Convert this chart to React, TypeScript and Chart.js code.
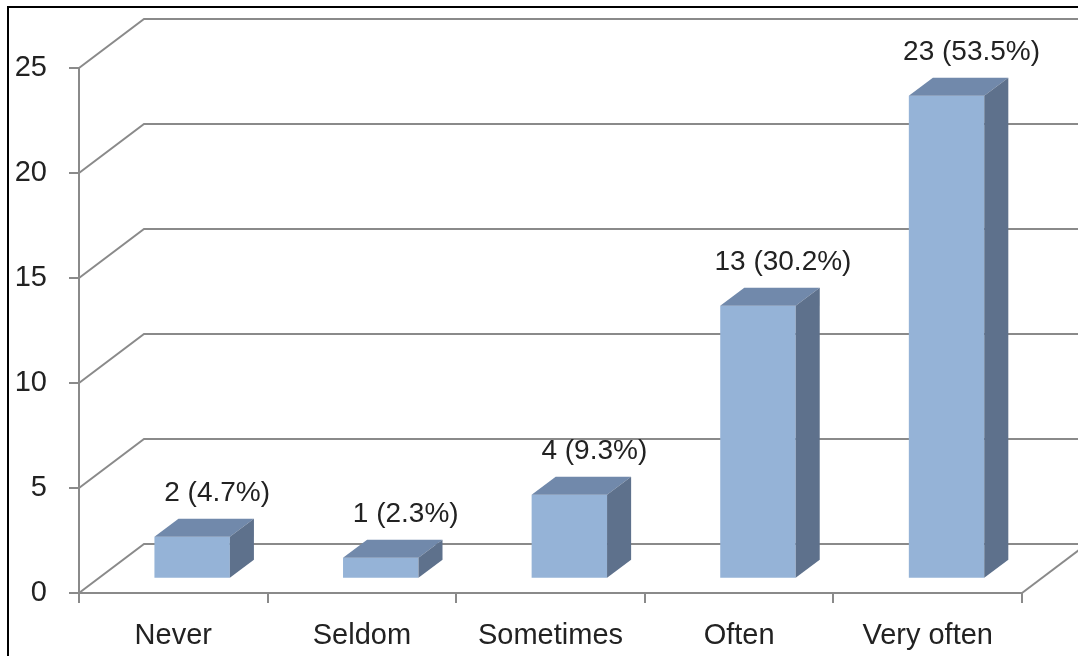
import React, { useEffect, useRef } from "react";
import { Chart, registerables } from "chart.js";

Chart.register(...registerables);

const categories = ["Never", "Seldom", "Sometimes", "Often", "Very often"];
const counts = [2, 1, 4, 13, 23];
const percents = [4.7, 2.3, 9.3, 30.2, 53.5];
const yMax = 25;
const yStep = 5;

const FONT = "'Liberation Sans', Arial, sans-serif";
const TEXT = "#222222";
const GRID = "#8a8a8a";
const FRONT = "#95b3d7";
const TOP = "#7189ab";
const SIDE = "#5e718c";

// 3D geometry of the floor / back wall
const WALL_DX = 65;
const WALL_DY = 49;
const BAR_FRONT = 0.29; // depth fraction where the bar front sits
const BAR_DEPTH = 0.37; // depth fraction occupied by a bar

const threeD = {
  id: "threeD",
  beforeDraw(chart: any) {
    const { ctx, chartArea, scales } = chart;
    const y = scales.y;
    ctx.save();
    // outer border
    ctx.fillStyle = "#000";
    ctx.fillRect(7, 6, chart.width - 7, 2);
    ctx.fillRect(7, 6, 2, chart.height - 6);
    // back wall gridlines
    ctx.strokeStyle = GRID;
    ctx.lineWidth = 2;
    for (let v = 0; v <= yMax; v += yStep) {
      const py = y.getPixelForValue(v);
      ctx.beginPath();
      ctx.moveTo(chartArea.left, py);
      ctx.lineTo(chartArea.left + WALL_DX, py - WALL_DY);
      ctx.lineTo(chart.width + 5, py - WALL_DY);
      ctx.stroke();
    }
    // floor right edge
    const p0 = y.getPixelForValue(0);
    ctx.beginPath();
    ctx.moveTo(chartArea.right, p0);
    ctx.lineTo(chartArea.right + WALL_DX, p0 - WALL_DY);
    ctx.stroke();
    ctx.restore();
  },
  beforeDatasetsDraw(chart: any) {
    const ctx = chart.ctx;
    ctx.save();
    ctx.translate(WALL_DX * BAR_FRONT, -WALL_DY * BAR_FRONT);
  },
  afterDatasetsDraw(chart: any) {
    const ctx = chart.ctx;
    ctx.restore();
    const dx = WALL_DX * BAR_FRONT;
    const dy = -WALL_DY * BAR_FRONT;
    const ddx = WALL_DX * BAR_DEPTH;
    const ddy = WALL_DY * BAR_DEPTH;
    const meta = chart.getDatasetMeta(0);
    ctx.save();
    meta.data.forEach((bar: any, i: number) => {
      const { x, y, base, width } = bar.getProps(["x", "y", "base", "width"], true);
      const x0 = x - width / 2 + dx;
      const x1 = x + width / 2 + dx;
      const yT = y + dy;
      const yB = base + dy;
      // top face
      ctx.fillStyle = TOP;
      ctx.beginPath();
      ctx.moveTo(x0, yT);
      ctx.lineTo(x0 + ddx, yT - ddy);
      ctx.lineTo(x1 + ddx, yT - ddy);
      ctx.lineTo(x1, yT);
      ctx.closePath();
      ctx.fill();
      // side face
      ctx.fillStyle = SIDE;
      ctx.beginPath();
      ctx.moveTo(x1, yT);
      ctx.lineTo(x1 + ddx, yT - ddy);
      ctx.lineTo(x1 + ddx, yB - ddy);
      ctx.lineTo(x1, yB);
      ctx.closePath();
      ctx.fill();
      // label
      ctx.fillStyle = TEXT;
      ctx.font = `28px ${FONT}`;
      ctx.textAlign = "center";
      ctx.textBaseline = "middle";
      ctx.fillText(`${counts[i]} (${percents[i]}%)`, x + dx + 25, yT - ddy - 25);
    });
    ctx.restore();
  },
};

export default function App() {
  const ref = useRef<HTMLCanvasElement>(null);
  useEffect(() => {
    if (!ref.current) return;
    const chart = new Chart(ref.current, {
      type: "bar",
      data: {
        labels: categories,
        datasets: [
          {
            data: counts,
            backgroundColor: FRONT,
            borderWidth: 0,
            barPercentage: 0.4,
            categoryPercentage: 1,
          },
        ],
      },
      options: {
        responsive: false,
        animation: false,
        devicePixelRatio: 1,
        layout: { padding: { left: 0, top: 68, right: 56, bottom: 0 } },
        plugins: { legend: { display: false }, tooltip: { enabled: false } },
        scales: {
          x: {
            grid: {
              offset: true,
              drawOnChartArea: false,
              drawTicks: true,
              tickLength: 10,
              color: GRID,
              lineWidth: 2,
            },
            border: { display: true, color: GRID, width: 2 },
            ticks: {
              font: { family: FONT, size: 29 },
              color: TEXT,
              padding: 16,
              maxRotation: 0,
            },
            afterFit: (s: any) => {
              s.height = 63;
            },
          },
          y: {
            min: 0,
            max: yMax,
            grid: {
              drawOnChartArea: false,
              drawTicks: true,
              tickLength: 10,
              color: GRID,
              lineWidth: 2,
            },
            border: { display: true, color: GRID, width: 2 },
            ticks: {
              stepSize: yStep,
              font: { family: FONT, size: 29 },
              color: TEXT,
              padding: 22,
            },
            afterFit: (s: any) => {
              s.width = 79;
            },
          },
        },
      },
      plugins: [threeD],
    });
    return () => chart.destroy();
  }, []);
  return (
    <div style={{ position: "absolute", left: 0, top: 0, width: 1078, height: 656, background: "#fff" }}>
      <canvas ref={ref} width={1078} height={656} style={{ display: "block" }} />
    </div>
  );
}
